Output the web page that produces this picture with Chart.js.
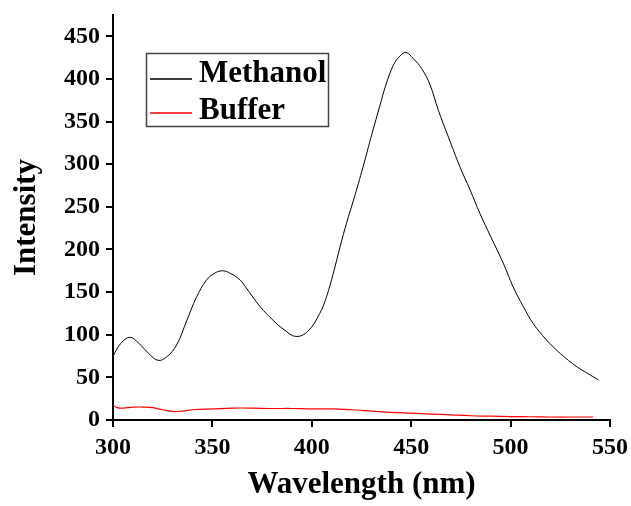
<!DOCTYPE html>
<html>
<head>
<meta charset="utf-8">
<script src="https://cdn.jsdelivr.net/npm/chart.js@4/dist/chart.umd.min.js"></script>
<style>
  html, body { margin: 0; padding: 0; background: #fff; }
  #wrap { width: 631px; height: 506px; }
</style>
</head>
<body>
<div id="wrap"><canvas id="myChart" width="631" height="506"></canvas></div>
<script>
// wavelength (nm) and intensity
var methanolX = [300, 304, 308.5, 313, 318, 322.6, 327, 332, 337, 342, 347, 351, 355, 359, 364, 367, 374, 380.5, 386, 392, 398, 404, 407.4, 410.8, 414.2, 417.6, 421, 425.8, 430.3, 434.3, 437, 441, 444.4, 447.4, 451, 455.3, 459.5, 463.7, 468.7, 474.5, 479.6, 484.6, 490, 496.3, 501.3, 506.4, 511.4, 518, 525, 533.3, 538.5, 544.2];
var methanolY = [75, 90, 97, 90, 78, 70, 74, 88, 116, 144, 164, 172, 175, 172, 164, 155, 133, 117, 106, 98, 104, 125, 144.5, 172, 203, 232, 258, 297, 336, 369, 391, 416, 427, 431, 424, 412, 393, 363, 332, 297, 270, 242, 215, 184, 156, 133, 113, 94, 78, 62.5, 55, 47];

var bufferX = [300, 302, 305, 310, 315, 320, 325, 330, 335, 340, 350, 360, 370, 380, 390, 400, 410, 420, 430, 440, 450, 460, 470, 480, 490, 500, 510, 520, 530, 541.5];
var bufferY = [17.5, 14.5, 14, 15, 15.2, 14.5, 12, 10, 10.5, 12, 13, 14, 14, 13.5, 13.5, 13, 13, 12, 10.5, 9, 8, 7, 6, 5, 4.5, 4, 3.8, 3.5, 3.5, 3.5];

var seriesNames = ['Methanol', 'Buffer'];
var seriesColors = ['#000000', '#ff0000'];

function toPoints(xs, ys) {
  var out = [];
  for (var i = 0; i < xs.length; i++) out.push({ x: xs[i], y: ys[i] });
  return out;
}

var serif = "'Liberation Serif', 'Times New Roman', serif";

// legend drawn as a framed box inside the plot, like the original
var boxLegend = {
  id: 'boxLegend',
  afterDraw: function (chart) {
    var ctx = chart.ctx;
    ctx.save();
    ctx.strokeStyle = '#444';
    ctx.lineWidth = 1.5;
    ctx.strokeRect(146.5, 53.5, 182, 73);
    ctx.font = 'bold 31px ' + serif;
    ctx.textBaseline = 'alphabetic';
    ctx.fillStyle = '#000';
    var rows = [79, 113];
    var base = [82, 119];
    chart.data.datasets.forEach(function (ds, i) {
      ctx.strokeStyle = seriesColors[i];
      ctx.lineWidth = 1.5;
      ctx.beginPath();
      ctx.moveTo(150, rows[i]);
      ctx.lineTo(192, rows[i]);
      ctx.stroke();
      ctx.fillText(ds.label, 199, base[i]);
    });
    ctx.restore();
  }
};

window.onload = function () {
  var ctx = document.getElementById('myChart').getContext('2d');
  var config = {
    type: 'line',
    data: {
      datasets: [{
        label: seriesNames[0],
        data: toPoints(methanolX, methanolY),
        borderColor: seriesColors[0],
        borderWidth: 1,
        pointRadius: 0,
        fill: false,
        tension: 0.4
      }, {
        label: seriesNames[1],
        data: toPoints(bufferX, bufferY),
        borderColor: seriesColors[1],
        borderWidth: 1.2,
        pointRadius: 0,
        fill: false,
        tension: 0.4
      }]
    },
    options: {
      responsive: false,
      animation: false,
      layout: { padding: { top: 15, right: 21, left: 0, bottom: 0 } },
      plugins: { legend: { display: false }, tooltip: { enabled: false } },
      scales: {
        x: {
          type: 'linear',
          min: 300,
          max: 550,
          afterFit: function (s) { s.height = 86; s.paddingLeft = 0; s.paddingRight = 0; },
          ticks: { stepSize: 50, color: '#000', padding: 6, font: { family: serif, size: 24, weight: 'bold' } },
          grid: { drawOnChartArea: false, drawTicks: true, tickLength: 7, color: '#000', lineWidth: 2 },
          border: { color: '#000', width: 2 },
          title: { display: true, text: 'Wavelength (nm)', color: '#000', padding: { top: 0, bottom: 2 }, font: { family: serif, size: 31, weight: 'bold' } }
        },
        y: {
          min: 0,
          max: 475,
          afterFit: function (s) { s.width = 113; s.paddingTop = 0; s.paddingBottom = 0; },
          ticks: { stepSize: 50, includeBounds: false, color: '#000', padding: 6, font: { family: serif, size: 24, weight: 'bold' } },
          grid: { drawOnChartArea: false, drawTicks: true, tickLength: 7, color: '#000', lineWidth: 2 },
          border: { color: '#000', width: 2 },
          title: { display: true, text: 'Intensity', color: '#000', padding: { top: 8, bottom: 0 }, font: { family: serif, size: 31, weight: 'bold' } }
        }
      }
    },
    plugins: [boxLegend]
  };
  var myChart = new Chart(ctx, config);
};
</script>
</body>
</html>
